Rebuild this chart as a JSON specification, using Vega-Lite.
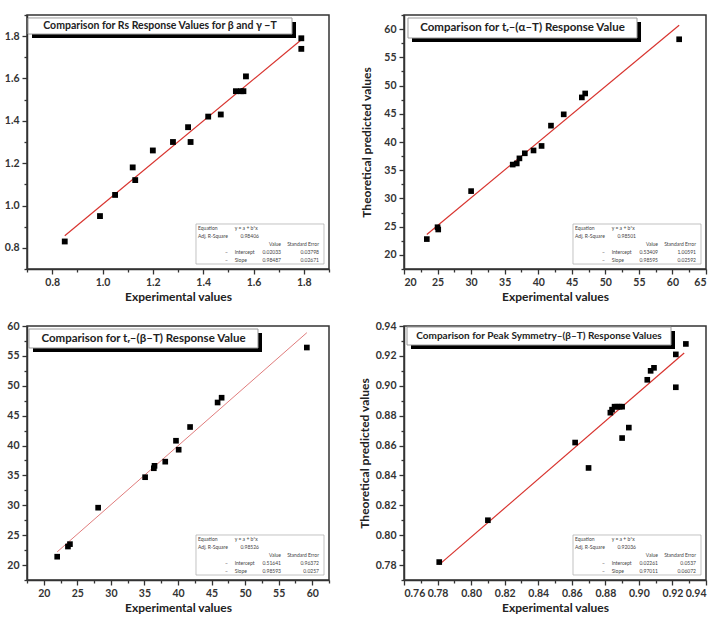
{
  "$schema": "https://vega.github.io/schema/vega-lite/v6.json",
  "background": "white",
  "padding": {"left": 3, "top": 13, "right": 0, "bottom": 0},
  "bounds": "flush",
  "columns": 2,
  "spacing": {"row": 57, "column": 75},
  "concat": [
    {
      "width": 302,
      "height": 254,
      "data": {"values": [
        {"exp": 0.85, "pred": 0.83}, {"exp": 0.99, "pred": 0.95}, {"exp": 1.05, "pred": 1.05},
        {"exp": 1.12, "pred": 1.18}, {"exp": 1.13, "pred": 1.12}, {"exp": 1.20, "pred": 1.26},
        {"exp": 1.28, "pred": 1.30}, {"exp": 1.34, "pred": 1.37}, {"exp": 1.35, "pred": 1.30},
        {"exp": 1.42, "pred": 1.42}, {"exp": 1.47, "pred": 1.43}, {"exp": 1.53, "pred": 1.54},
        {"exp": 1.55, "pred": 1.54}, {"exp": 1.56, "pred": 1.54}, {"exp": 1.57, "pred": 1.61},
        {"exp": 1.79, "pred": 1.79}, {"exp": 1.79, "pred": 1.74}
      ]},
      "layer": [
        {
          "data": {"values": [{"exp": 0.85, "pred": 0.85747}, {"exp": 1.79, "pred": 1.78325}]},
          "mark": {"type": "line", "color": "#d8342f", "strokeWidth": 1.2},
          "encoding": {
            "x": {"field": "exp", "type": "quantitative", "scale": {"domain": [0.7, 1.9], "nice": false},
                  "axis": {"orient": "bottom", "values": [0.7, 0.9, 1.1, 1.3, 1.5, 1.7, 1.9], "labels": false, "domain": false, "tickSize": 3, "title": null}},
            "y": {"field": "pred", "type": "quantitative", "scale": {"domain": [0.7, 1.9], "nice": false},
                  "axis": {"orient": "left", "values": [0.7, 0.9, 1.1, 1.3, 1.5, 1.7, 1.9], "labels": false, "domain": false, "tickSize": 3, "title": null}}
          }
        },
        {
          "mark": {"type": "square", "size": 34, "color": "black", "opacity": 1},
          "encoding": {
            "x": {"field": "exp", "type": "quantitative", "scale": {"domain": [0.7, 1.9], "nice": false},
                  "axis": {"orient": "bottom", "values": [0.8, 1.0, 1.2, 1.4, 1.6, 1.8], "format": ".1f", "title": "Experimental values"}},
            "y": {"field": "pred", "type": "quantitative", "scale": {"domain": [0.7, 1.9], "nice": false},
                  "axis": {"orient": "left", "values": [0.8, 1.0, 1.2, 1.4, 1.6, 1.8], "format": ".1f", "title": null}}
          }
        },
        {
          "data": {"values": [{"label": "Comparison for Rs Response Values for β and γ −T"}]},
          "encoding": {
            "x": {"datum": 0.704, "axis": null},
            "x2": {"datum": 1.753},
            "y": {"datum": 1.886, "axis": null},
            "y2": {"datum": 1.810}
          },
          "layer": [
            {"mark": {"type": "rect", "fill": "black", "xOffset": 4, "x2Offset": 4, "yOffset": 4, "y2Offset": 4}},
            {"mark": {"type": "rect", "fill": "white", "stroke": "#9a9a9a", "strokeWidth": 1}},
            {"mark": {"type": "text", "fontSize": 10.5, "fontWeight": "bold", "color": "#222", "baseline": "middle"},
             "encoding": {"text": {"field": "label"}, "x": {"datum": 1.2285, "axis": null}, "x2": null, "y": {"datum": 1.848, "axis": null}, "y2": null}}
          ]
        },
        {
          "data": {"values": [{
            "names": "Equation\nAdj. R-Square", "dash": "–\n–", "eq": "y = a + b*x", "terms": "Intercept\nSlope",
            "r2": "0.98406", "val": "Value\n0.02033\n0.98487", "err": "Standard Error\n0.03798\n0.02671"
          }]},
          "layer": [
            {"mark": {"type": "rect", "fill": "white", "stroke": "#a8a8a8", "strokeWidth": 0.7},
             "encoding": {"x": {"datum": 1.3715, "axis": null}, "x2": {"datum": 1.8801}, "y": {"datum": 0.9126, "axis": null}, "y2": {"datum": 0.7236}}},
            {"mark": {"type": "text", "align": "left"},
             "encoding": {"text": {"field": "names"}, "x": {"datum": 1.3795, "axis": null}, "y": {"datum": 0.9032, "axis": null}}},
            {"mark": {"type": "text", "align": "left"},
             "encoding": {"text": {"field": "eq"}, "x": {"datum": 1.5253, "axis": null}, "y": {"datum": 0.9032, "axis": null}}},
            {"mark": {"type": "text", "align": "right"},
             "encoding": {"text": {"field": "r2"}, "x": {"datum": 1.6218, "axis": null}, "y": {"datum": 0.8654, "axis": null}}},
            {"mark": {"type": "text", "align": "right"},
             "encoding": {"text": {"field": "val"}, "x": {"datum": 1.7093, "axis": null}, "y": {"datum": 0.8276, "axis": null}}},
            {"mark": {"type": "text", "align": "right"},
             "encoding": {"text": {"field": "err"}, "x": {"datum": 1.8603, "axis": null}, "y": {"datum": 0.8276, "axis": null}}},
            {"mark": {"type": "text", "align": "right"},
             "encoding": {"text": {"field": "dash"}, "x": {"datum": 1.4987, "axis": null}, "y": {"datum": 0.7898, "axis": null}}},
            {"mark": {"type": "text", "align": "left"},
             "encoding": {"text": {"field": "terms"}, "x": {"datum": 1.5253, "axis": null}, "y": {"datum": 0.7898, "axis": null}}}
          ]
        }
      ],
      "resolve": {"axis": {"x": "independent", "y": "independent"}}
    },
    {
      "width": 302,
      "height": 254,
      "data": {"values": [
        {"exp": 23.4, "pred": 22.8}, {"exp": 25.0, "pred": 24.9}, {"exp": 25.1, "pred": 24.5},
        {"exp": 30.0, "pred": 31.3}, {"exp": 36.2, "pred": 36.0}, {"exp": 36.8, "pred": 36.2},
        {"exp": 37.2, "pred": 37.1}, {"exp": 38.0, "pred": 38.0}, {"exp": 39.3, "pred": 38.5},
        {"exp": 40.5, "pred": 39.3}, {"exp": 41.9, "pred": 42.9}, {"exp": 43.8, "pred": 44.9},
        {"exp": 46.5, "pred": 47.9}, {"exp": 47.0, "pred": 48.6}, {"exp": 61.0, "pred": 58.2}
      ]},
      "layer": [
        {
          "data": {"values": [{"exp": 23.4, "pred": 23.6053}, {"exp": 61.0, "pred": 60.677}]},
          "mark": {"type": "line", "color": "#d8342f", "strokeWidth": 1.2},
          "encoding": {
            "x": {"field": "exp", "type": "quantitative", "scale": {"domain": [20, 65], "nice": false},
                  "axis": {"orient": "bottom", "values": [22.5, 27.5, 32.5, 37.5, 42.5, 47.5, 52.5, 57.5, 62.5], "labels": false, "domain": false, "tickSize": 3, "title": null}},
            "y": {"field": "pred", "type": "quantitative", "scale": {"domain": [17.5, 62.5], "nice": false},
                  "axis": {"orient": "left", "values": [17.5, 22.5, 27.5, 32.5, 37.5, 42.5, 47.5, 52.5, 57.5, 62.5], "labels": false, "domain": false, "tickSize": 3, "title": null}}
          }
        },
        {
          "mark": {"type": "square", "size": 32, "color": "black", "opacity": 1},
          "encoding": {
            "x": {"field": "exp", "type": "quantitative", "scale": {"domain": [20, 65], "nice": false},
                  "axis": {"orient": "bottom", "values": [20, 25, 30, 35, 40, 45, 50, 55, 60, 65], "format": "d", "title": "Experimental values"}},
            "y": {"field": "pred", "type": "quantitative", "scale": {"domain": [17.5, 62.5], "nice": false},
                  "axis": {"orient": "left", "values": [20, 25, 30, 35, 40, 45, 50, 55, 60], "format": "d", "title": "Theoretical predicted values", "titlePadding": 10}}
          }
        },
        {
          "data": {"values": [{"label": "Comparison for tᵣ–(α–T) Response Value"}]},
          "encoding": {
            "x": {"datum": 20.596, "axis": null},
            "x2": {"datum": 54.72},
            "y": {"datum": 61.968, "axis": null},
            "y2": {"datum": 58.425}
          },
          "layer": [
            {"mark": {"type": "rect", "fill": "black", "xOffset": 4, "x2Offset": 4, "yOffset": 4, "y2Offset": 4}},
            {"mark": {"type": "rect", "fill": "white", "stroke": "#9a9a9a", "strokeWidth": 1}},
            {"mark": {"type": "text", "fontSize": 11.5, "fontWeight": "bold", "color": "#222", "baseline": "middle"},
             "encoding": {"text": {"field": "label"}, "x": {"datum": 37.66, "axis": null}, "x2": null, "y": {"datum": 60.197, "axis": null}, "y2": null}}
          ]
        },
        {
          "data": {"values": [{
            "names": "Equation\nAdj. R-Square", "dash": "–\n–", "eq": "y = a + b*x", "terms": "Intercept\nSlope",
            "r2": "0.98501", "val": "Value\n0.53409\n0.98595", "err": "Standard Error\n1.00591\n0.02592"
          }]},
          "layer": [
            {"mark": {"type": "rect", "fill": "white", "stroke": "#a8a8a8", "strokeWidth": 0.7},
             "encoding": {"x": {"datum": 45.18, "axis": null}, "x2": {"datum": 64.255}, "y": {"datum": 25.47, "axis": null}, "y2": {"datum": 18.38}}},
            {"mark": {"type": "text", "align": "left"},
             "encoding": {"text": {"field": "names"}, "x": {"datum": 45.48, "axis": null}, "y": {"datum": 25.115, "axis": null}}},
            {"mark": {"type": "text", "align": "left"},
             "encoding": {"text": {"field": "eq"}, "x": {"datum": 50.95, "axis": null}, "y": {"datum": 25.115, "axis": null}}},
            {"mark": {"type": "text", "align": "right"},
             "encoding": {"text": {"field": "r2"}, "x": {"datum": 54.57, "axis": null}, "y": {"datum": 23.698, "axis": null}}},
            {"mark": {"type": "text", "align": "right"},
             "encoding": {"text": {"field": "val"}, "x": {"datum": 57.85, "axis": null}, "y": {"datum": 22.28, "axis": null}}},
            {"mark": {"type": "text", "align": "right"},
             "encoding": {"text": {"field": "err"}, "x": {"datum": 63.51, "axis": null}, "y": {"datum": 22.28, "axis": null}}},
            {"mark": {"type": "text", "align": "right"},
             "encoding": {"text": {"field": "dash"}, "x": {"datum": 49.95, "axis": null}, "y": {"datum": 20.863, "axis": null}}},
            {"mark": {"type": "text", "align": "left"},
             "encoding": {"text": {"field": "terms"}, "x": {"datum": 50.95, "axis": null}, "y": {"datum": 20.863, "axis": null}}}
          ]
        }
      ],
      "resolve": {"axis": {"x": "independent", "y": "independent"}}
    },
    {
      "width": 302,
      "height": 254,
      "data": {"values": [
        {"exp": 22.0, "pred": 21.4}, {"exp": 23.6, "pred": 23.1}, {"exp": 23.9, "pred": 23.5},
        {"exp": 28.1, "pred": 29.6}, {"exp": 35.1, "pred": 34.7}, {"exp": 36.4, "pred": 36.2},
        {"exp": 36.5, "pred": 36.6}, {"exp": 38.1, "pred": 37.3}, {"exp": 39.7, "pred": 40.8},
        {"exp": 40.1, "pred": 39.3}, {"exp": 41.8, "pred": 43.1}, {"exp": 45.9, "pred": 47.2},
        {"exp": 46.5, "pred": 48.0}, {"exp": 59.2, "pred": 56.4}
      ]},
      "layer": [
        {
          "data": {"values": [{"exp": 22.0, "pred": 22.2069}, {"exp": 59.2, "pred": 58.8835}]},
          "mark": {"type": "line", "color": "#e07c7c", "strokeWidth": 1},
          "encoding": {
            "x": {"field": "exp", "type": "quantitative", "scale": {"domain": [17.5, 62.5], "nice": false},
                  "axis": {"orient": "bottom", "values": [17.5, 22.5, 27.5, 32.5, 37.5, 42.5, 47.5, 52.5, 57.5, 62.5], "labels": false, "domain": false, "tickSize": 3, "title": null}},
            "y": {"field": "pred", "type": "quantitative", "scale": {"domain": [17.5, 60], "nice": false},
                  "axis": {"orient": "left", "values": [17.5, 22.5, 27.5, 32.5, 37.5, 42.5, 47.5, 52.5, 57.5], "labels": false, "domain": false, "tickSize": 3, "title": null}}
          }
        },
        {
          "mark": {"type": "square", "size": 32, "color": "black", "opacity": 1},
          "encoding": {
            "x": {"field": "exp", "type": "quantitative", "scale": {"domain": [17.5, 62.5], "nice": false},
                  "axis": {"orient": "bottom", "values": [20, 25, 30, 35, 40, 45, 50, 55, 60], "format": "d", "title": "Experimental values"}},
            "y": {"field": "pred", "type": "quantitative", "scale": {"domain": [17.5, 60], "nice": false},
                  "axis": {"orient": "left", "values": [20, 25, 30, 35, 40, 45, 50, 55, 60], "format": "d", "title": null}}
          }
        },
        {
          "data": {"values": [{"label": "Comparison for tᵣ–(β–T) Response Value"}]},
          "encoding": {
            "x": {"datum": 17.798, "axis": null},
            "x2": {"datum": 51.92},
            "y": {"datum": 59.498, "axis": null},
            "y2": {"datum": 56.319}
          },
          "layer": [
            {"mark": {"type": "rect", "fill": "black", "xOffset": 4, "x2Offset": 4, "yOffset": 4, "y2Offset": 4}},
            {"mark": {"type": "rect", "fill": "white", "stroke": "#9a9a9a", "strokeWidth": 1}},
            {"mark": {"type": "text", "fontSize": 11.5, "fontWeight": "bold", "color": "#222", "baseline": "middle"},
             "encoding": {"text": {"field": "label"}, "x": {"datum": 34.86, "axis": null}, "x2": null, "y": {"datum": 57.908, "axis": null}, "y2": null}}
          ]
        },
        {
          "data": {"values": [{
            "names": "Equation\nAdj. R-Square", "dash": "–\n–", "eq": "y = a + b*x", "terms": "Intercept\nSlope",
            "r2": "0.98526", "val": "Value\n0.51641\n0.98593", "err": "Standard Error\n0.96372\n0.0257"
          }]},
          "layer": [
            {"mark": {"type": "rect", "fill": "white", "stroke": "#a8a8a8", "strokeWidth": 0.7},
             "encoding": {"x": {"datum": 42.68, "axis": null}, "x2": {"datum": 61.755}, "y": {"datum": 25.03, "axis": null}, "y2": {"datum": 18.333}}},
            {"mark": {"type": "text", "align": "left"},
             "encoding": {"text": {"field": "names"}, "x": {"datum": 42.98, "axis": null}, "y": {"datum": 24.692, "axis": null}}},
            {"mark": {"type": "text", "align": "left"},
             "encoding": {"text": {"field": "eq"}, "x": {"datum": 48.45, "axis": null}, "y": {"datum": 24.692, "axis": null}}},
            {"mark": {"type": "text", "align": "right"},
             "encoding": {"text": {"field": "r2"}, "x": {"datum": 52.07, "axis": null}, "y": {"datum": 23.353, "axis": null}}},
            {"mark": {"type": "text", "align": "right"},
             "encoding": {"text": {"field": "val"}, "x": {"datum": 55.35, "axis": null}, "y": {"datum": 22.015, "axis": null}}},
            {"mark": {"type": "text", "align": "right"},
             "encoding": {"text": {"field": "err"}, "x": {"datum": 61.01, "axis": null}, "y": {"datum": 22.015, "axis": null}}},
            {"mark": {"type": "text", "align": "right"},
             "encoding": {"text": {"field": "dash"}, "x": {"datum": 47.45, "axis": null}, "y": {"datum": 20.676, "axis": null}}},
            {"mark": {"type": "text", "align": "left"},
             "encoding": {"text": {"field": "terms"}, "x": {"datum": 48.45, "axis": null}, "y": {"datum": 20.676, "axis": null}}}
          ]
        }
      ],
      "resolve": {"axis": {"x": "independent", "y": "independent"}}
    },
    {
      "width": 302,
      "height": 254,
      "data": {"values": [
        {"exp": 0.781, "pred": 0.782}, {"exp": 0.810, "pred": 0.810}, {"exp": 0.862, "pred": 0.862},
        {"exp": 0.870, "pred": 0.845}, {"exp": 0.883, "pred": 0.882}, {"exp": 0.884, "pred": 0.884},
        {"exp": 0.8855, "pred": 0.886}, {"exp": 0.887, "pred": 0.886}, {"exp": 0.8885, "pred": 0.886},
        {"exp": 0.890, "pred": 0.886}, {"exp": 0.890, "pred": 0.865}, {"exp": 0.894, "pred": 0.872},
        {"exp": 0.905, "pred": 0.904}, {"exp": 0.907, "pred": 0.910}, {"exp": 0.909, "pred": 0.912},
        {"exp": 0.922, "pred": 0.899}, {"exp": 0.922, "pred": 0.921}, {"exp": 0.928, "pred": 0.928}
      ]},
      "layer": [
        {
          "data": {"values": [{"exp": 0.781, "pred": 0.78027}, {"exp": 0.927, "pred": 0.9219}]},
          "mark": {"type": "line", "color": "#d8342f", "strokeWidth": 1.2},
          "encoding": {
            "x": {"field": "exp", "type": "quantitative", "scale": {"domain": [0.76, 0.94], "nice": false},
                  "axis": {"orient": "bottom", "values": [0.77, 0.79, 0.81, 0.83, 0.85, 0.87, 0.89, 0.91, 0.93], "labels": false, "domain": false, "tickSize": 3, "title": null}},
            "y": {"field": "pred", "type": "quantitative", "scale": {"domain": [0.77, 0.94], "nice": false},
                  "axis": {"orient": "left", "values": [0.77, 0.79, 0.81, 0.83, 0.85, 0.87, 0.89, 0.91, 0.93], "labels": false, "domain": false, "tickSize": 3, "title": null}}
          }
        },
        {
          "mark": {"type": "square", "size": 32, "color": "black", "opacity": 1},
          "encoding": {
            "x": {"field": "exp", "type": "quantitative", "scale": {"domain": [0.76, 0.94], "nice": false},
                  "axis": {"orient": "bottom", "values": [0.76, 0.78, 0.80, 0.82, 0.84, 0.86, 0.88, 0.90, 0.92, 0.94], "format": ".2f", "title": "Experimental values"}},
            "y": {"field": "pred", "type": "quantitative", "scale": {"domain": [0.77, 0.94], "nice": false},
                  "axis": {"orient": "left", "values": [0.78, 0.80, 0.82, 0.84, 0.86, 0.88, 0.90, 0.92, 0.94], "format": ".2f", "title": "Theoretical predicted values", "titlePadding": 4}}
          }
        },
        {
          "data": {"values": [{"label": "Comparison for  Peak Symmetry–(β–T) Response Values"}]},
          "encoding": {
            "x": {"datum": 0.76179, "axis": null},
            "x2": {"datum": 0.91914},
            "y": {"datum": 0.93933, "axis": null},
            "y2": {"datum": 0.92728}
          },
          "layer": [
            {"mark": {"type": "rect", "fill": "black", "xOffset": 4, "x2Offset": 4, "yOffset": 4, "y2Offset": 4}},
            {"mark": {"type": "rect", "fill": "white", "stroke": "#9a9a9a", "strokeWidth": 1}},
            {"mark": {"type": "text", "fontSize": 10, "fontWeight": "bold", "color": "#222", "baseline": "middle"},
             "encoding": {"text": {"field": "label"}, "x": {"datum": 0.84046, "axis": null}, "x2": null, "y": {"datum": 0.93331, "axis": null}, "y2": null}}
          ]
        },
        {
          "data": {"values": [{
            "names": "Equation\nAdj. R-Square", "dash": "–\n–", "eq": "y = a + b*x", "terms": "Intercept\nSlope",
            "r2": "0.92036", "val": "Value\n0.02261\n0.97011", "err": "Standard Error\n0.0537\n0.06072"
          }]},
          "layer": [
            {"mark": {"type": "rect", "fill": "white", "stroke": "#a8a8a8", "strokeWidth": 0.7},
             "encoding": {"x": {"datum": 0.86073, "axis": null}, "x2": {"datum": 0.93702}, "y": {"datum": 0.80012, "axis": null}, "y2": {"datum": 0.77335}}},
            {"mark": {"type": "text", "align": "left"},
             "encoding": {"text": {"field": "names"}, "x": {"datum": 0.86192, "axis": null}, "y": {"datum": 0.79878, "axis": null}}},
            {"mark": {"type": "text", "align": "left"},
             "encoding": {"text": {"field": "eq"}, "x": {"datum": 0.88379, "axis": null}, "y": {"datum": 0.79878, "axis": null}}},
            {"mark": {"type": "text", "align": "right"},
             "encoding": {"text": {"field": "r2"}, "x": {"datum": 0.89828, "axis": null}, "y": {"datum": 0.79342, "axis": null}}},
            {"mark": {"type": "text", "align": "right"},
             "encoding": {"text": {"field": "val"}, "x": {"datum": 0.91139, "axis": null}, "y": {"datum": 0.78807, "axis": null}}},
            {"mark": {"type": "text", "align": "right"},
             "encoding": {"text": {"field": "err"}, "x": {"datum": 0.93404, "axis": null}, "y": {"datum": 0.78807, "axis": null}}},
            {"mark": {"type": "text", "align": "right"},
             "encoding": {"text": {"field": "dash"}, "x": {"datum": 0.8798, "axis": null}, "y": {"datum": 0.78271, "axis": null}}},
            {"mark": {"type": "text", "align": "left"},
             "encoding": {"text": {"field": "terms"}, "x": {"datum": 0.88379, "axis": null}, "y": {"datum": 0.78271, "axis": null}}}
          ]
        }
      ],
      "resolve": {"axis": {"x": "independent", "y": "independent"}}
    }
  ],
  "config": {
    "view": {"stroke": "#333", "strokeWidth": 1.5},
    "axis": {
      "grid": false,
      "domainColor": "#333",
      "domainWidth": 1.5,
      "tickColor": "#333",
      "tickWidth": 1.3,
      "tickSize": 5,
      "labelFont": "Lato",
      "labelFontSize": 10.5,
      "labelFontWeight": "bold",
      "labelColor": "#333",
      "labelPadding": 3,
      "titleFont": "Lato",
      "titleFontSize": 12,
      "titleFontWeight": "bold",
      "titleColor": "#222",
      "titlePadding": 4
    },
    "text": {"font": "Lato", "fontSize": 5, "lineHeight": 8, "lineBreak": "\n", "color": "#444", "baseline": "top"}
  }
}
